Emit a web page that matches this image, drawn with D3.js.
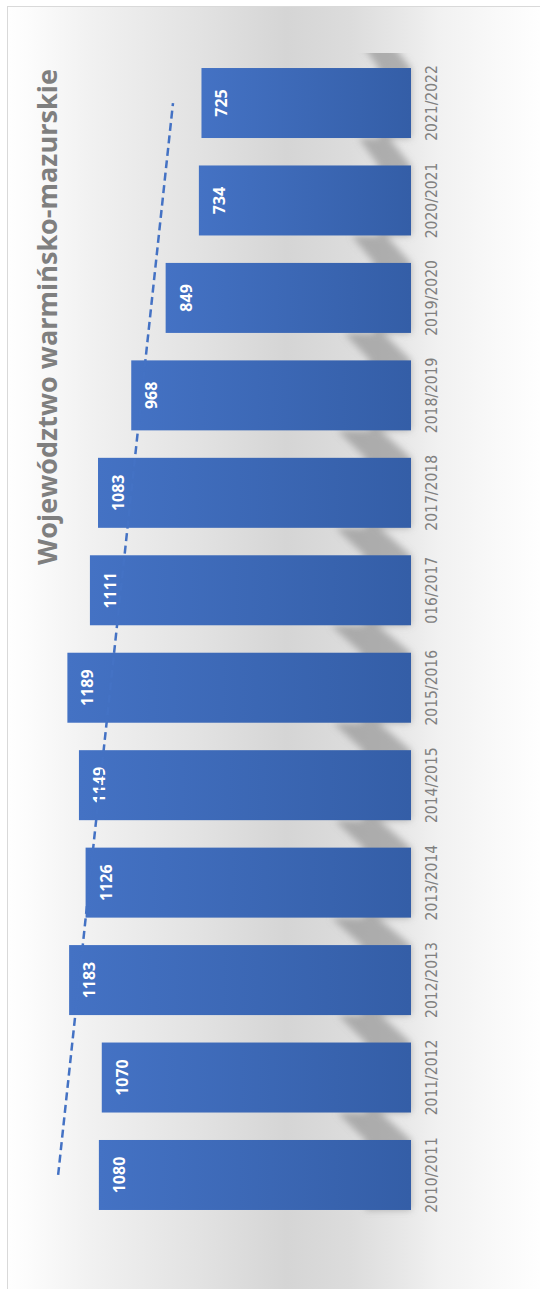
<!DOCTYPE html>
<html>
<head>
<meta charset="utf-8">
<script src="https://cdn.jsdelivr.net/npm/d3@7"></script>
<style>
  body { margin: 0; background: #fff; }
  svg { display: block; }
</style>
</head>
<body>
<svg id="chart"></svg>
<script>
// data (school years, Województwo warmińsko-mazurskie)
const categories = ["2010/2011", "2011/2012", "2012/2013", "2013/2014", "2014/2015", "2015/2016",
                    "016/2017", "2017/2018", "2018/2019", "2019/2020", "2020/2021", "2021/2022"];
const values = [1080, 1070, 1183, 1126, 1149, 1189, 1111, 1083, 968, 849, 734, 725];
const title = "Województwo warmińsko-mazurskie";

const W = 540, H = 1289;
const baseX = 411;

const svg = d3.select("#chart")
    .attr("width", W)
    .attr("height", H);

const defs = svg.append("defs");

// background gradient across the card
const bg = defs.append("linearGradient")
    .attr("id", "bg")
    .attr("gradientUnits", "userSpaceOnUse")
    .attr("x1", 0).attr("x2", W).attr("y1", 0).attr("y2", 0);
[[0, "#ffffff"], [0.05, "#fcfcfc"], [0.18, "#f0f0f0"], [0.37, "#e2e2e2"], [0.53, "#d5d5d5"],
 [0.65, "#dcdcdc"], [0.75, "#e8e8e8"], [0.81, "#f1f1f1"], [0.92, "#f9f9f9"], [1, "#fefefe"]]
  .forEach(s => bg.append("stop").attr("offset", s[0]).attr("stop-color", s[1]));

// bar gradient
const barGrad = defs.append("linearGradient")
    .attr("id", "barGrad")
    .attr("x1", 0).attr("x2", 1).attr("y1", 0).attr("y2", 0);
barGrad.append("stop").attr("offset", 0).attr("stop-color", "#4472c4");
barGrad.append("stop").attr("offset", 1).attr("stop-color", "#345ea7");

defs.append("filter")
    .attr("id", "blur")
    .attr("x", "-50%").attr("y", "-50%").attr("width", "200%").attr("height", "200%")
  .append("feGaussianBlur")
    .attr("stdDeviation", 3.5);

defs.append("clipPath")
    .attr("id", "plotClip")
  .append("rect")
    .attr("x", 0).attr("y", 53).attr("width", W).attr("height", H - 53);

// card
svg.append("rect")
    .attr("x", 7.5).attr("y", 6.5)
    .attr("width", 700).attr("height", 1400)
    .attr("fill", "url(#bg)")
    .attr("stroke", "#d9d9d9")
    .attr("stroke-width", 1);

// scales: columns turned on their side
const x = d3.scaleLinear()
    .domain([0, 1400])
    .range([baseX, baseX - 0.289 * 1400]);

const y = d3.scaleBand()
    .domain(categories.slice().reverse())
    .range([54.3, 1223.7])
    .paddingInner(0.2817)
    .paddingOuter(0.1408);

const data = categories.map((c, i) => ({cat: c, value: values[i], idx: i + 1}));
const bw = y.bandwidth();
const gap = y.step() - bw;

// perspective shadows behind the bars
svg.append("g")
    .attr("clip-path", "url(#plotClip)")
  .append("g")
    .attr("filter", "url(#blur)")
  .selectAll("polygon")
  .data(data)
  .join("polygon")
    .attr("points", d => {
        const y0 = y(d.cat);
        const L = baseX - x(d.value);
        const ls = 0.21 * L + 8;
        return [[baseX, y0 + bw], [baseX, y0], [baseX - 0.42 * ls, y0 - gap],
                [baseX - ls, y0 - gap], [baseX - 0.62 * ls, y0], [baseX - 0.62 * ls, y0 + bw]]
            .map(p => p.join(",")).join(" ");
    })
    .attr("fill", "#888")
    .attr("opacity", 0.6);

// bars
svg.selectAll(".bar")
  .data(data)
  .join("rect")
    .attr("class", "bar")
    .attr("x", d => x(d.value))
    .attr("y", d => y(d.cat))
    .attr("width", d => baseX - x(d.value))
    .attr("height", bw)
    .attr("fill", "url(#barGrad)");

// value labels
svg.selectAll(".val")
  .data(data)
  .join("text")
    .attr("class", "val")
    .attr("transform", d => `translate(${x(d.value) + 20},${y(d.cat) + bw / 2}) rotate(-90)`)
    .attr("text-anchor", "middle")
    .attr("dominant-baseline", "central")
    .attr("fill", "#fff")
    .style("font-family", "'Open Sans', sans-serif")
    .style("font-weight", "bold")
    .style("font-size", "16px")
    .text(d => d.value);

// linear trend line (least squares over category index)
const n = data.length;
const mx = d3.mean(data, d => d.idx), my = d3.mean(data, d => d.value);
const slope = d3.sum(data, d => (d.idx - mx) * (d.value - my)) / d3.sum(data, d => (d.idx - mx) ** 2);
const icpt = my - slope * mx;
const trend = [data[0], data[n - 1]].map(d => ({cat: d.cat, v: icpt + slope * d.idx}));

svg.append("path")
    .datum(trend)
    .attr("d", d3.line().x(d => x(d.v)).y(d => y(d.cat) + bw / 2))
    .attr("fill", "none")
    .attr("stroke", "#4472c4")
    .attr("stroke-width", 2.5)
    .attr("stroke-dasharray", "8,4.5");

// category labels
svg.selectAll(".cat")
  .data(data)
  .join("text")
    .attr("class", "cat")
    .attr("transform", d => `translate(432,${y(d.cat) + bw / 2}) rotate(-90)`)
    .attr("text-anchor", "middle")
    .attr("dominant-baseline", "central")
    .attr("fill", "#808080")
    .style("font-family", "'DejaVu Sans Condensed', 'DejaVu Sans', sans-serif")
    .style("font-stretch", "condensed")
    .style("font-size", "15.5px")
    .text(d => d.cat);

// title
svg.append("text")
    .attr("transform", "translate(57,317) rotate(-90)")
    .attr("text-anchor", "middle")
    .attr("fill", "#7f7f7f")
    .style("font-family", "'Open Sans', sans-serif")
    .style("font-weight", "bold")
    .style("font-size", "27px")
    .text(title);
</script>
</body>
</html>
